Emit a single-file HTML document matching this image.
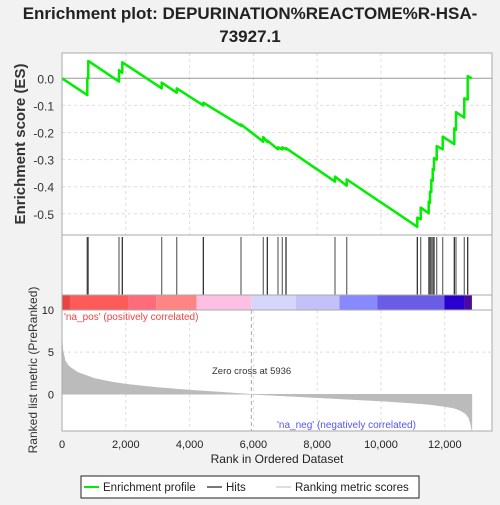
<!DOCTYPE html>
<html><head><meta charset="utf-8"><style>
body{margin:0;background:#f2f2f2;font-family:"Liberation Sans",sans-serif}
svg text{font-family:"Liberation Sans",sans-serif}
</style></head><body>
<svg id="c" width="500" height="500" xmlns="http://www.w3.org/2000/svg">
<rect width="500" height="500" fill="#f2f2f2"/>
<text x="250" y="19" font-size="17" font-weight="bold" text-anchor="middle" fill="#222">Enrichment plot: DEPURINATION%REACTOME%R-HSA-</text>
<text x="250" y="42" font-size="17" font-weight="bold" text-anchor="middle" fill="#222">73927.1</text>
<rect x="62" y="53" width="430" height="378" fill="#fff"/>
<g id="grid"></g>
<g id="bars"></g>
<g id="hits"></g>
<g id="metric"></g>
<g id="es"></g>
<g id="axes"></g>
<rect x="62" y="53" width="430" height="378" fill="none" stroke="#aaa"/>
<line x1="62" y1="235" x2="492" y2="235" stroke="#aaa"/>
<line x1="62" y1="295" x2="492" y2="295" stroke="#aaa"/>
<line x1="62" y1="310" x2="492" y2="310" stroke="#aaa"/>
<text x="64" y="320" font-size="10" fill="#ee4444">'na_pos' (positively correlated)</text>
<text x="277" y="428" font-size="10" fill="#5555ee">'na_neg' (negatively correlated)</text>
<text x="212" y="374" font-size="9.5" fill="#333">Zero cross at 5936</text>
<text transform="translate(25,144) rotate(-90)" font-size="15" font-weight="bold" fill="#333" text-anchor="middle">Enrichment score (ES)</text>
<text transform="translate(37,370) rotate(-90)" font-size="12" fill="#333" text-anchor="middle">Ranked list metric (PreRanked)</text>
<text x="277" y="463" font-size="12" fill="#222" text-anchor="middle">Rank in Ordered Dataset</text>
<g>
<rect x="81" y="476" width="338" height="22" fill="#fff" stroke="#222"/>
<line x1="84" y1="487" x2="99" y2="487" stroke="#00ee00" stroke-width="2"/>
<text x="103" y="491" font-size="11.5" fill="#222">Enrichment profile</text>
<line x1="207" y1="487" x2="222" y2="487" stroke="#777" stroke-width="2"/>
<text x="226" y="491" font-size="11.5" fill="#222">Hits</text>
<line x1="276" y1="487" x2="291" y2="487" stroke="#ddd" stroke-width="2"/>
<text x="295" y="491" font-size="11.5" fill="#222">Ranking metric scores</text>
</g>
</svg>
<script>
const hitRanks=[793,824,1787,1890,3125,3596,4430,5611,6310,6436,6771,6906,7022,8558,8925,11138,11245,11495,11536,11577,11621,11661,11746,11934,12298,12351,12611,12718];
const esBefore=[-0.062,0.0,-0.012,0.02,-0.037,-0.053,-0.10,-0.175,-0.234,-0.235,-0.262,-0.262,-0.262,-0.381,-0.396,-0.548,-0.52,-0.498,-0.46,-0.42,-0.378,-0.338,-0.30,-0.262,-0.243,-0.19,-0.145,-0.078];
const esAfter=[0.0,0.064,0.03,0.059,-0.016,-0.037,-0.09,-0.17,-0.217,-0.23,-0.255,-0.255,-0.258,-0.363,-0.373,-0.514,-0.477,-0.455,-0.418,-0.375,-0.335,-0.295,-0.25,-0.215,-0.185,-0.125,-0.074,0.008];
const totalRanks=12850;
const metricRanks=[0,30,100,200,300,500,1000,1500,2000,3000,4000,5000,5936,7000,8000,9000,10000,11000,11500,12000,12300,12500,12650,12750,12800,12850];
const metricValues=[6.7,5.2,4.0,3.4,3.1,2.6,1.9,1.5,1.2,0.8,0.5,0.25,0,-0.2,-0.4,-0.6,-0.8,-1.05,-1.2,-1.45,-1.65,-1.95,-2.3,-2.8,-3.4,-4.3];
const xTicks=[0,2000,4000,6000,8000,10000,12000];
const esTicks=[0.0,-0.1,-0.2,-0.3,-0.4,-0.5];
const metricTicks=[10,5,0];
const barEdges=[0,250,2070,2950,4220,5936,7330,8700,9880,11990,12620,12850];
const barColors=['#e84444','#ff5a5a','#ff6b7a','#ff8585','#fcc0e2','#d6d6fa','#c4c0f8','#8888ff','#6b5ce8','#2a00d0','#4a0aa0'];

const NS='http://www.w3.org/2000/svg';
const X=r=>62+r*0.0319;
const YE=v=>78.3-v*271;
const YM=v=>394.3-v*8.43;
function mk(parent,tag,attrs){const e=document.createElementNS(NS,tag);for(const k in attrs)e.setAttribute(k,attrs[k]);document.getElementById(parent).appendChild(e);return e;}

xTicks.forEach(t=>{if(t===0)return;
 let l=mk('grid','line',{x1:X(t),x2:X(t),y1:53,y2:235,stroke:'#ddd','stroke-dasharray':'3,3'});
 
 let l2=mk('grid','line',{x1:X(t),x2:X(t),y1:310,y2:431,stroke:'#ddd','stroke-dasharray':'3,3'});
 
});
esTicks.forEach(t=>{
 let l=mk('grid','line',{x1:62,x2:492,y1:YE(t),y2:YE(t),stroke:t===0?'#999':'#ddd','stroke-dasharray':t===0?'':'3,3'});
 
 let tx=mk('axes','text',{x:54,y:YE(t)+5,'font-size':12,'text-anchor':'end',fill:'#333'});tx.textContent=t.toFixed(1);
 
});
metricTicks.forEach(t=>{
 if(t===5){let l=mk('grid','line',{x1:62,x2:492,y1:YM(t),y2:YM(t),stroke:'#ddd','stroke-dasharray':'3,3'});
 }
 let tx=mk('axes','text',{x:54,y:YM(t)+4,'font-size':11,'text-anchor':'end',fill:'#222'});tx.textContent=t;
 
});
xTicks.forEach(t=>{
 let tx=mk('axes','text',{x:X(t),y:448,'font-size':11,'text-anchor':'middle',fill:'#222'});tx.textContent=t.toLocaleString('en-US');
 
});
let zc=mk('grid','line',{x1:X(5936),x2:X(5936),y1:310,y2:431,stroke:'#aaa','stroke-dasharray':'4,3'});


barColors.forEach((c,i)=>{
 let r=mk('bars','rect',{x:X(barEdges[i]),y:295,width:X(barEdges[i+1])-X(barEdges[i]),height:15,fill:c});
 
});
hitRanks.forEach((h,i)=>{
 let l=mk('hits','line',{x1:X(h),x2:X(h),y1:237,y2:295,stroke:i%3===0?'#222':'#666','stroke-width':1.2});
 
});
let d='M'+X(0)+','+YM(0);
metricRanks.forEach((r,i)=>{d+=' L'+X(r)+','+YM(metricValues[i]);});
d+=' L'+X(totalRanks)+','+YM(0)+' Z';
let ma=mk('metric','path',{d:d,fill:'#bbb',stroke:'#bbb','stroke-width':0.5});


let p='M'+X(0)+','+YE(0);
hitRanks.forEach((h,i)=>{p+=' L'+X(h)+','+YE(esBefore[i])+' L'+X(h)+','+YE(esAfter[i]);});
p+=' L'+X(totalRanks)+','+YE(0);
let es=mk('es','path',{d:p,fill:'none',stroke:'#00ee00','stroke-width':2.5,'stroke-linejoin':'round'});

</script>
</body></html>
